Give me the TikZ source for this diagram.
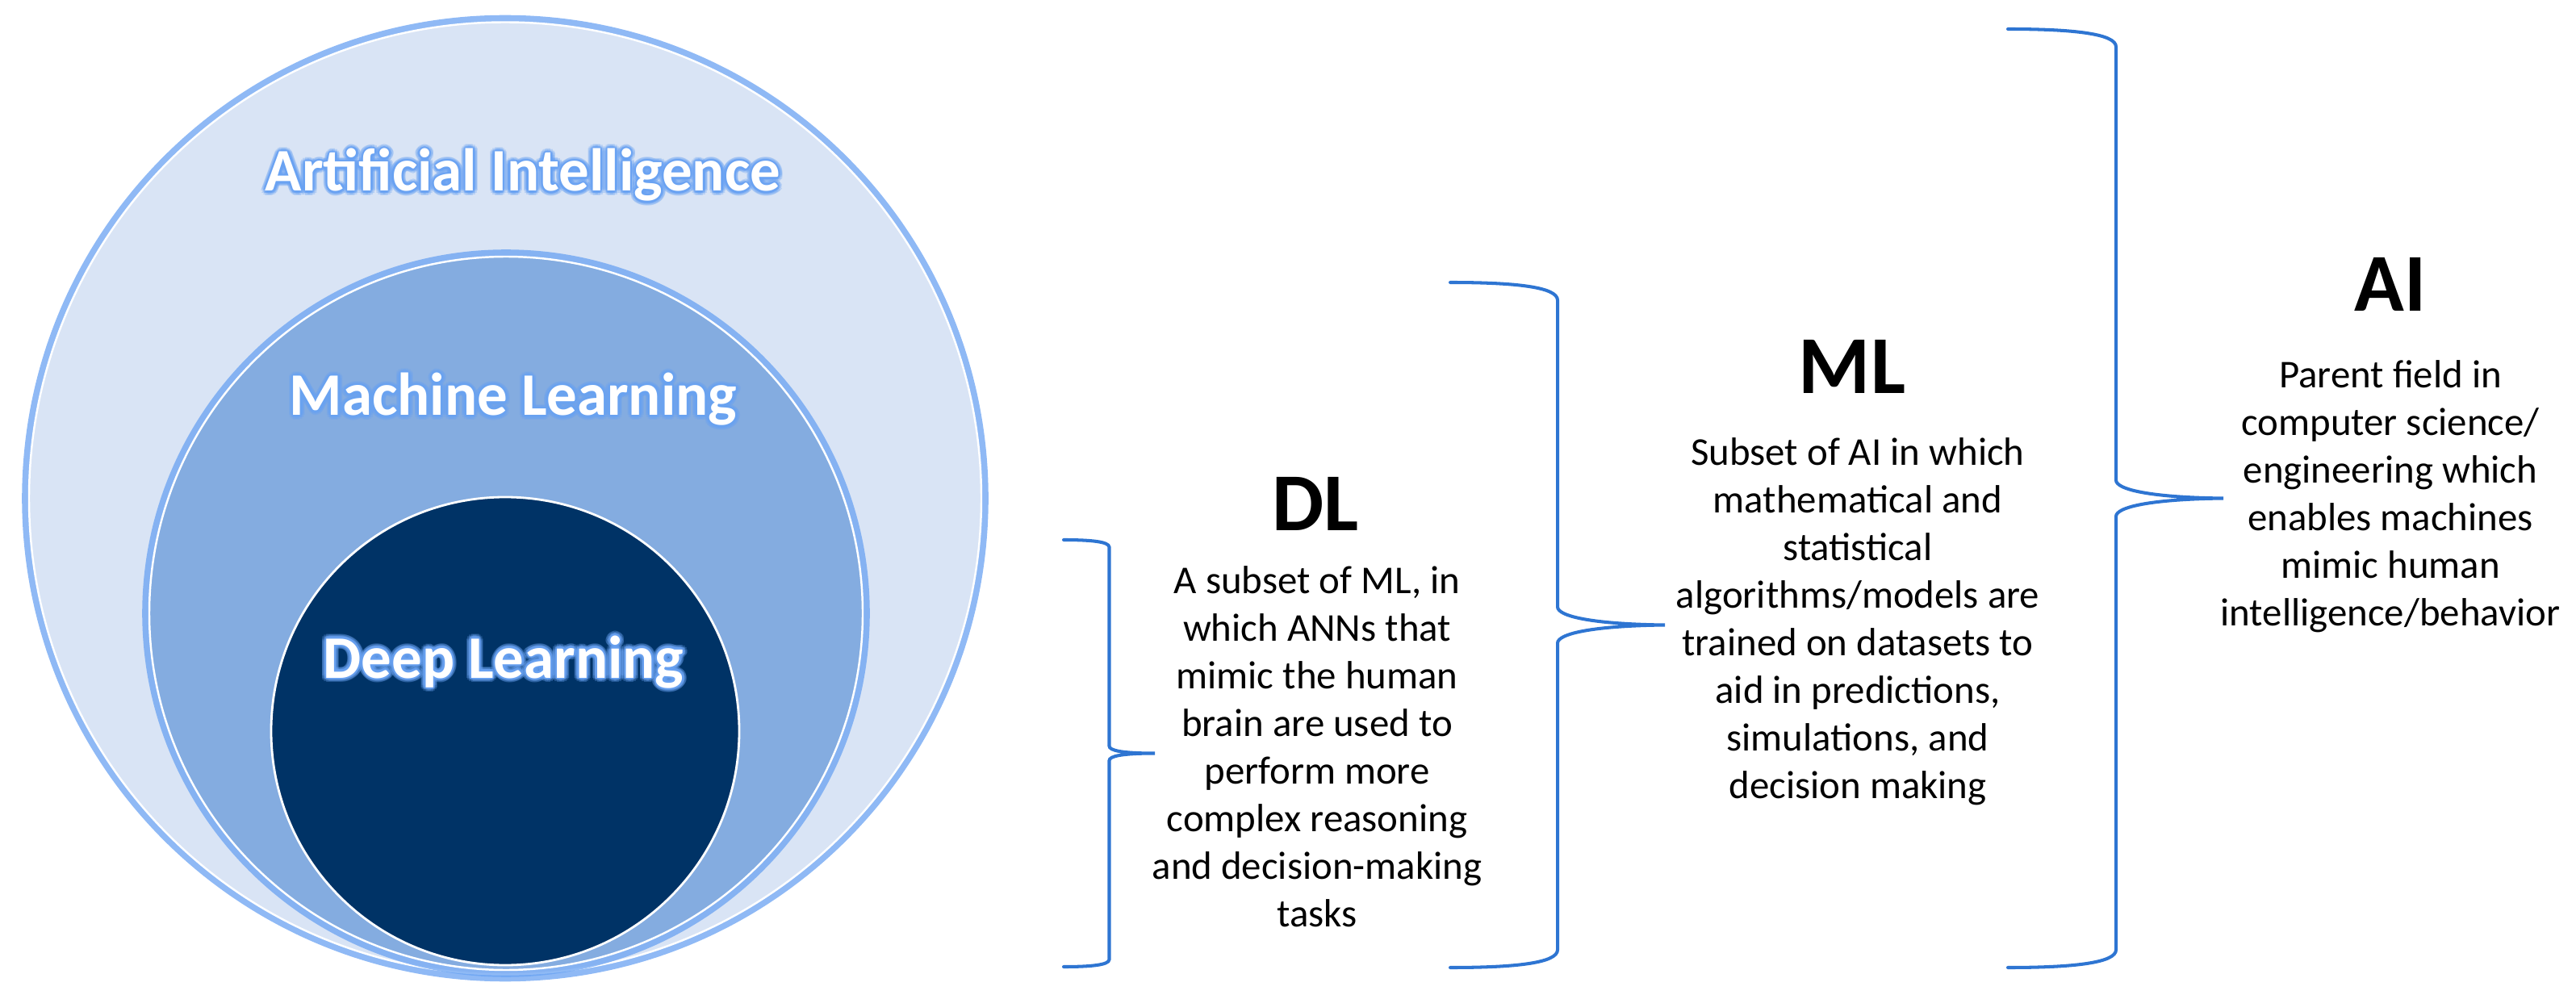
\documentclass[tikz,border=0pt]{standalone}
\usepackage{fontspec}
\setmainfont{Carlito}
\usepackage{xcolor}
\definecolor{aifill}{RGB}{217,228,245}
\definecolor{mlfill}{RGB}{132,172,224}
\definecolor{dlfill}{RGB}{0,51,102}
\definecolor{glowblue}{RGB}{105,162,242}
\definecolor{braceblue}{RGB}{46,117,210}
\usetikzlibrary{positioning}

% white title with a soft blue glow round it
\newcommand{\glowtitle}[3]{%
  \foreach \ang in {0,30,...,330}{
    \node[title, text=glowblue, text opacity=0.30, anchor=base,
          shift={(\ang:0.055)}] (#1out\ang) at (#2) {#3};
    \node[title, text=glowblue, text opacity=0.45, anchor=base,
          shift={(\ang:0.025)}] (#1in\ang) at (#2) {#3};
  }
  \node[title, anchor=base] (#1) at (#2) {#3};
}

\begin{document}
\begin{tikzpicture}
[every node/.style={inner sep=0pt},
 ring/.style={circle, line width=0.7pt, draw=white,
   preaction={draw=glowblue, line width=5pt, draw opacity=0.75}},
 title/.style={font=\bfseries\fontsize{21.3}{25}\selectfont, text=white},
 head/.style={font=\bfseries\fontsize{29}{34}\selectfont},
 body/.style={font=\fontsize{13.9}{16.8}\selectfont, align=center},
 brace line/.style={draw=braceblue, line width=1.15pt, line cap=round},
]
\useasboundingbox (0,0) rectangle (31.92,-12.33);

% the three nested fields
\node[ring, fill=aifill, minimum size=11.80cm] (aicirc) at (6.26,-6.175) {};
\node[ring, fill=mlfill, minimum size=8.84cm]  (mlcirc) at (6.27,-7.60) {};
\node[circle, fill=dlfill, draw=white, line width=0.8pt,
      minimum size=5.80cm] (dlcirc) at (6.26,-9.06) {};

\glowtitle{aititle}{6.48,-2.37}{Artificial Intelligence}
\glowtitle{mltitle}{6.36,-5.15}{Machine Learning}
\glowtitle{dltitle}{6.24,-8.40}{Deep Learning}

% braces
\draw[brace line] (13.18,-6.69) .. controls (13.50,-6.69) and (13.745,-6.71) .. (13.745,-6.78)
  -- (13.745,-9.245) .. controls (13.745,-9.30) and (13.90,-9.335) .. (14.31,-9.335)
  .. controls (13.90,-9.335) and (13.745,-9.37) .. (13.745,-9.425)
  -- (13.745,-11.89) .. controls (13.745,-11.96) and (13.50,-11.98) .. (13.18,-11.98);

\draw[brace line] (17.97,-3.50) .. controls (18.80,-3.50) and (19.30,-3.56) .. (19.30,-3.72)
  -- (19.30,-7.52) .. controls (19.30,-7.64) and (19.75,-7.735) .. (20.63,-7.745)
  .. controls (19.75,-7.755) and (19.30,-7.85) .. (19.30,-7.97)
  -- (19.30,-11.77) .. controls (19.30,-11.93) and (18.80,-11.99) .. (17.97,-11.99);

\draw[brace line] (24.88,-0.36) .. controls (25.70,-0.36) and (26.22,-0.42) .. (26.22,-0.58)
  -- (26.22,-5.95) .. controls (26.22,-6.07) and (26.67,-6.165) .. (27.55,-6.175)
  .. controls (26.67,-6.185) and (26.22,-6.28) .. (26.22,-6.40)
  -- (26.22,-11.77) .. controls (26.22,-11.93) and (25.70,-11.99) .. (24.88,-11.99);

% labels
\node[head] (dlhead) at (16.30,-6.24) {DL};
\node[body] (dlbody) at (16.32,-9.25) {A subset of ML, in\\ which ANNs that\\ mimic the human\\
  brain are used to\\ perform more\\ complex reasoning\\ and decision-making\\ tasks};

\node[head] (mlhead) at (22.95,-4.54) {ML};
\node[body] (mlbody) at (23.02,-7.70) {Subset of AI in which\\ mathematical and\\ statistical\\
  algorithms/models are\\ trained on datasets to\\ aid in predictions,\\ simulations, and\\ decision making};

\node[head] (aihead) at (29.62,-3.52) {AI};
\node[body] (aibody) at (29.62,-6.15) {Parent field in\\ computer science/\\ engineering which\\
  enables machines\\ mimic human\\ intelligence/behavior};
\end{tikzpicture}
\end{document}
